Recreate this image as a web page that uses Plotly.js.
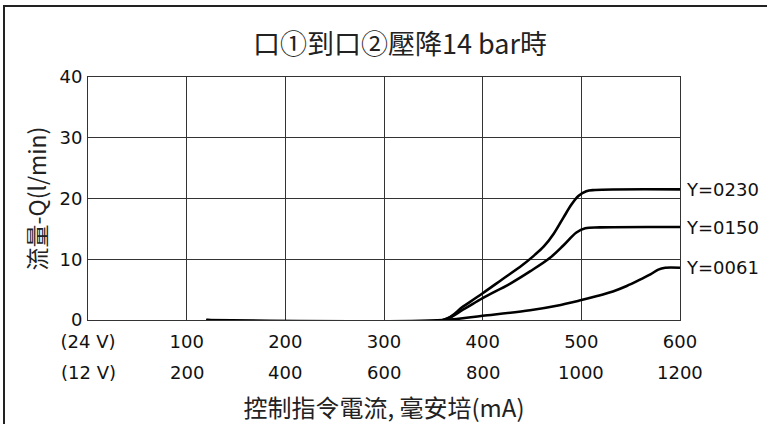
<!DOCTYPE html>
<html>
<head>
<meta charset="utf-8">
<script src="https://cdn.plot.ly/plotly-3.0.1.min.js"></script>
<style>html,body{margin:0;padding:0;background:#fff;}#chart{width:767px;height:424px;}</style>
</head>
<body>
<div id="chart"></div>
<script>
// ---- data ----
var seriesNames = ['Y=0230', 'Y=0150', 'Y=0061'];
var x230 = [120, 360, 380, 400, 420, 440, 452, 462, 472, 482, 490, 497, 505, 514, 600];
var y230 = [0, 0, 2.2, 4.4, 6.7, 9.0, 10.6, 12.1, 14.2, 16.9, 19.0, 20.4, 21.2, 21.4, 21.5];
var x150 = [120, 360, 380, 400, 428, 448, 468, 482, 495, 504, 519, 600];
var y150 = [0, 0, 1.7, 3.6, 6.0, 8.0, 10.2, 12.3, 14.4, 15.1, 15.25, 15.3];
var x061 = [120, 360, 400, 448, 475, 498, 515, 532, 546, 559, 570, 578, 585, 600];
var y061 = [0, 0, 0.7, 1.6, 2.35, 3.2, 3.9, 4.7, 5.6, 6.6, 7.5, 8.3, 8.6, 8.6];
var xTickVals = [0, 100, 200, 300, 400, 500, 600];
var xTickText24 = ['(24 V)', '100', '200', '300', '400', '500', '600'];
var xTickText12 = ['(12 V)', '200', '400', '600', '800', '1000', '1200'];
var yTickVals = [0, 10, 20, 30, 40];
var titleText = '口①到口②壓降14 bar時';
var xTitleText = '控制指令電流, 毫安培(mA)';
var yTitleText = '流量-Q(l/min)';

var W = 767, H = 424;
var numFont = "'DejaVu Sans', 'Liberation Sans', sans-serif";
var cjkFont = "'Noto Sans CJK TC', 'Noto Sans CJK SC', sans-serif";

var xs = [x230, x150, x061];
var ys = [y230, y150, y061];
var traces = seriesNames.map(function (n, i) {
  return {
    x: xs[i], y: ys[i], name: n, type: 'scatter', mode: 'lines',
    line: {color: '#000', width: 2.6, shape: 'spline', smoothing: 1.0},
    hoverinfo: 'skip'
  };
});

var annotations = [];
seriesNames.forEach(function (n, i) {
  var xx = xs[i], yy = ys[i];
  annotations.push({
    x: xx[xx.length - 1], y: yy[yy.length - 1], xref: 'x', yref: 'y',
    text: n, showarrow: false, xanchor: 'left', yanchor: 'middle', xshift: 4,
    font: {family: numFont, size: 18, color: '#111'}
  });
});
xTickVals.forEach(function (v, i) {
  annotations.push({
    x: v, y: 1 - 372 / H, xref: 'x', yref: 'paper',
    text: xTickText12[i], showarrow: false, xanchor: 'center', yanchor: 'middle',
    font: {family: numFont, size: 18, color: '#111'}
  });
});

var layout = {
  width: W, height: H,
  margin: {l: 0, r: 0, t: 0, b: 0},
  paper_bgcolor: '#fff', plot_bgcolor: '#fff',
  showlegend: false,
  title: {text: titleText, x: 400 / W, xanchor: 'center', y: 1 - 45 / H, yanchor: 'middle',
          font: {family: cjkFont, size: 27, color: '#222'}},
  xaxis: {
    domain: [88 / W, 680 / W], range: [0, 600], tickvals: xTickVals, ticktext: xTickText24,
    showgrid: true, gridcolor: '#333', gridwidth: 1, zeroline: false,
    showline: true, linecolor: '#333', linewidth: 1, mirror: true, ticks: '',
    ticklabelstandoff: 5,
    tickfont: {family: numFont, size: 18, color: '#111'},
    title: {text: xTitleText, standoff: 50, font: {family: cjkFont, size: 24, color: '#222'}},
    automargin: false, fixedrange: true
  },
  yaxis: {
    domain: [1 - 320 / H, 1 - 77 / H], range: [0, 40], tickvals: yTickVals,
    showgrid: true, gridcolor: '#333', gridwidth: 1, zeroline: false,
    showline: true, linecolor: '#333', linewidth: 1, mirror: true, ticks: '',
    ticklabelstandoff: 1,
    tickfont: {family: numFont, size: 18, color: '#111'},
    title: {text: yTitleText, standoff: 6, font: {family: cjkFont, size: 23, color: '#222'}},
    automargin: false, fixedrange: true
  },
  annotations: annotations,
  shapes: [
    {type: 'line', xref: 'paper', yref: 'paper', x0: 3 / W, x1: 1, y0: 1 - 6 / H, y1: 1 - 6 / H,
     line: {color: '#222', width: 2}},
    {type: 'line', xref: 'paper', yref: 'paper', x0: 4 / W, x1: 4 / W, y0: 1 - 6 / H, y1: 0,
     line: {color: '#222', width: 2}}
  ]
};

Plotly.newPlot('chart', traces, layout, {staticPlot: true, displayModeBar: false});
</script>
</body>
</html>
